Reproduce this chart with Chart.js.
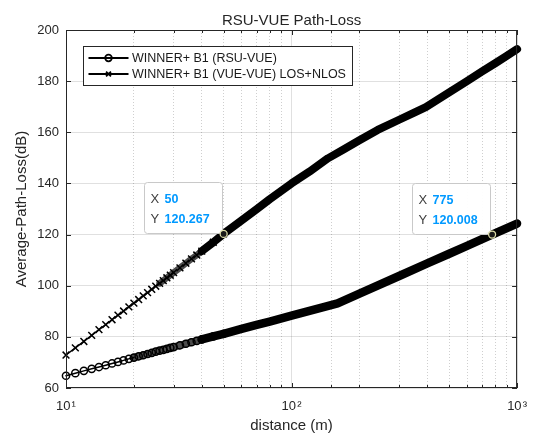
<!DOCTYPE html>
<html lang="en">
<head>
  <meta charset="UTF-8">
  <title>RSU-VUE Path-Loss</title>
  <script src="https://cdn.jsdelivr.net/npm/chart.js"></script>
  <style>
    body { margin: 0; background: #fff; }
    #wrap { width: 538px; height: 435px; }
  </style>
</head>
<body>
  <div id="wrap"><canvas id="plChart" width="538" height="435"></canvas></div>

  <script>
    // values (distance in m, loss in dB)
    const distRsu = [10, 11, 12, 13, 14, 15, 16, 17, 18, 19, 20, 21, 22, 23, 24, 25, 26, 27, 28, 29, 30,
      32, 34, 36, 38, 40, 45, 50, 60, 70, 80, 100, 120, 140, 160, 200, 300, 400, 500, 600, 775, 1000];
    const lossRsu = [64.8, 65.8, 66.7, 67.5, 68.2, 68.9, 69.6, 70.2, 70.8, 71.4, 71.9, 72.4, 72.8, 73.3, 73.7, 74.2, 74.6, 74.9, 75.3, 75.7, 76.0,
      76.7, 77.3, 77.9, 78.4, 79.0, 80.2, 81.2, 83.1, 84.7, 86.0, 88.3, 90.2, 91.7, 93.1, 96.9, 103.8, 108.7, 112.5, 115.6, 120.0, 124.3];

    const distVue = [10, 11, 12, 13, 14, 15, 16, 17, 18, 19, 20, 21, 22, 23, 24, 25, 26, 27, 28, 29, 30,
      32, 34, 36, 38, 40, 45, 50, 60, 70, 80, 100, 120, 145, 170, 200, 241, 300, 350, 394, 500, 600, 700, 800, 900, 1000];
    const lossVue = [72.9, 75.7, 78.2, 80.6, 82.8, 84.8, 86.7, 88.5, 90.1, 91.7, 93.2, 94.6, 96.0, 97.3, 98.6, 99.8, 100.9, 102.0, 103.1, 104.1, 105.1,
      107.0, 108.8, 110.5, 112.0, 113.5, 117.0, 120.3, 125.5, 129.9, 133.8, 140.0, 144.6, 149.8, 153.3, 156.9, 160.9, 164.9, 167.7, 169.8, 175.6, 180.0, 183.8, 187.0, 189.9, 192.5];

    const seriesNames = ['WINNER+ B1 (RSU-VUE)', 'WINNER+ B1 (VUE-VUE) LOS+NLOS'];
    const tipX = [50, 775];
    const tipY = [120.267, 120.008];

    const FONT = '"Liberation Sans", Arial, sans-serif';
    const INK = '#262626';
    const sup = { 1: '\u00b9', 2: '\u00b2', 3: '\u00b3' };
    const isDecade = v => Math.abs(Math.log10(v) - Math.round(Math.log10(v))) < 1e-6;

    Chart.defaults.font.family = FONT;
    Chart.defaults.color = INK;

    function drawMarker(ctx, style, x, y, r) {
      ctx.beginPath();
      if (style === 'circle') {
        ctx.arc(x, y, r, 0, Math.PI * 2);
      } else {
        const d = r * 0.75;
        ctx.moveTo(x - d, y - d); ctx.lineTo(x + d, y + d);
        ctx.moveTo(x - d, y + d); ctx.lineTo(x + d, y - d);
      }
      ctx.stroke();
    }

    function drawTip(ctx, px, py, xv, yv) {
      const w = 78, h = 51;
      const left = Math.round(px - 2 - w) + 0.5, top = Math.round(py - 1 - h) + 0.5;
      ctx.beginPath();
      if (ctx.roundRect) ctx.roundRect(left, top, w, h, 3); else ctx.rect(left, top, w, h);
      ctx.fillStyle = 'rgba(255,255,255,0.96)';
      ctx.fill();
      ctx.strokeStyle = '#c9c9c9';
      ctx.lineWidth = 1;
      ctx.stroke();

      ctx.textAlign = 'left';
      ctx.textBaseline = 'middle';
      ctx.font = '13px ' + FONT;
      ctx.fillStyle = '#404040';
      ctx.fillText('X', left + 6, top + 17);
      ctx.fillText('Y', left + 6, top + 37);
      ctx.font = 'bold 12.5px ' + FONT;
      ctx.fillStyle = '#0099ff';
      ctx.fillText(String(xv), left + 20, top + 17);
      ctx.fillText(yv.toFixed(3), left + 20, top + 37);

      // datatip marker
      ctx.beginPath();
      ctx.arc(px, py, 3.5, 0, Math.PI * 2);
      ctx.fillStyle = '#1a1a1a';
      ctx.fill();
      ctx.strokeStyle = '#dcdca8';
      ctx.lineWidth = 1.3;
      ctx.stroke();
    }

    const decor = {
      id: 'decor',
      afterDatasetsDraw(chart) {
        const { ctx, chartArea: a, scales: { x, y } } = chart;
        ctx.save();

        // axes box with inward ticks
        ctx.strokeStyle = INK;
        ctx.lineWidth = 1;
        ctx.strokeRect(a.left + 0.5, a.top + 0.5, a.right - a.left - 1, a.bottom - a.top - 1);
        ctx.beginPath();
        x.ticks.forEach(t => {
          const px = Math.round(x.getPixelForValue(t.value)) + 0.5;
          const len = isDecade(t.value) ? 5 : 3;
          ctx.moveTo(px, a.bottom); ctx.lineTo(px, a.bottom - len);
          ctx.moveTo(px, a.top); ctx.lineTo(px, a.top + len);
        });
        y.ticks.forEach(t => {
          const py = Math.round(y.getPixelForValue(t.value)) + 0.5;
          ctx.moveTo(a.left, py); ctx.lineTo(a.left + 5, py);
          ctx.moveTo(a.right, py); ctx.lineTo(a.right - 5, py);
        });
        ctx.stroke();

        // title
        ctx.font = '15px ' + FONT;
        ctx.fillStyle = INK;
        ctx.textAlign = 'center';
        ctx.textBaseline = 'alphabetic';
        ctx.fillText('RSU-VUE Path-Loss', (a.left + a.right) / 2, 25);

        // legend
        const lx = a.left + 17.5, ly = a.top + 16.5, lw = 269, lh = 39;
        ctx.fillStyle = '#fff';
        ctx.fillRect(lx, ly, lw, lh);
        ctx.strokeStyle = INK;
        ctx.strokeRect(lx, ly, lw, lh);
        const styles = ['circle', 'crossRot'];
        seriesNames.forEach((name, i) => {
          const ry = ly + 11.5 + i * 16;
          ctx.strokeStyle = '#000';
          ctx.lineWidth = 2;
          ctx.beginPath();
          ctx.moveTo(lx + 5, ry); ctx.lineTo(lx + 45, ry);
          ctx.stroke();
          ctx.lineWidth = 1.8;
          drawMarker(ctx, styles[i], lx + 25, ry, 3.3);
          ctx.font = '12.5px ' + FONT;
          ctx.fillStyle = '#1a1a1a';
          ctx.textAlign = 'left';
          ctx.textBaseline = 'middle';
          ctx.fillText(name, lx + 48.5, ry + 0.5);
        });

        // data tips
        tipX.forEach((xv, i) => {
          drawTip(ctx, x.getPixelForValue(xv), y.getPixelForValue(tipY[i]), xv, tipY[i]);
        });
        ctx.restore();
      }
    };

    // thin line with markers, a grey overlap band, then a solid band where markers pile up
    function seriesSet(label, dist, loss, style, radius, markerEnd, bandFrom, solidFrom, bandW, solidW, bandColor) {
      return {
        label,
        data: dist.map((d, i) => ({ x: d, y: loss[i] })),
        borderColor: '#000',
        backgroundColor: 'transparent',
        borderWidth: 1.5,
        borderCapStyle: 'round',
        borderJoinStyle: 'round',
        pointStyle: style,
        pointRadius: c => (c.raw && c.raw.x <= markerEnd ? radius : 0),
        pointBorderWidth: 1.5,
        pointBorderColor: '#000',
        pointBackgroundColor: 'transparent',
        segment: {
          borderWidth: c => (c.p0.parsed.x >= solidFrom ? solidW : c.p0.parsed.x >= bandFrom ? bandW : 1.5),
          borderColor: c => (c.p0.parsed.x >= solidFrom ? '#000' : c.p0.parsed.x >= bandFrom ? bandColor : '#000')
        },
        tension: 0,
        clip: 8
      };
    }

    new Chart(document.getElementById('plChart'), {
      type: 'line',
      data: {
        datasets: [
          seriesSet(seriesNames[0], distRsu, lossRsu, 'circle', 3.6, 50, 20, 40, 7.5, 8.5, 'rgba(0,0,0,0.7)'),
          seriesSet(seriesNames[1], distVue, lossVue, 'crossRot', 4.8, 50, 26, 40, 6.5, 8, 'rgba(0,0,0,0.7)')
        ]
      },
      options: {
        responsive: false,
        animation: false,
        layout: { padding: { top: 30, right: 18, left: 0, bottom: 0 } },
        plugins: { legend: { display: false }, tooltip: { enabled: false } },
        scales: {
          x: {
            type: 'logarithmic',
            min: 10,
            max: 1000,
            afterFit: s => { s.height = 47; },
            grid: {
              drawTicks: false,
              color: c => (c.tick && isDecade(c.tick.value) ? 'rgba(38,38,38,0.14)' : 'rgba(38,38,38,0.22)')
            },
            border: {
              display: false,
              dash: c => (c.tick && !isDecade(c.tick.value) ? [1, 2] : [])
            },
            ticks: {
              autoSkip: false,
              maxRotation: 0,
              padding: 11,
              font: { size: 13 },
              color: INK,
              callback: v => (isDecade(v) ? '10\u200a' + sup[Math.round(Math.log10(v))] : '')
            },
            title: { display: true, text: 'distance (m)', font: { size: 15 }, color: INK, padding: { top: 0, bottom: 0 } }
          },
          y: {
            min: 60,
            max: 200,
            afterFit: s => { s.width = 66; },
            grid: { drawTicks: false, color: 'rgba(38,38,38,0.14)' },
            border: { display: false },
            ticks: { stepSize: 20, padding: 7, font: { size: 13 }, color: INK },
            title: { display: true, text: 'Average-Path-Loss(dB)', font: { size: 15 }, color: INK, padding: { top: 13, bottom: 0 } }
          }
        }
      },
      plugins: [decor]
    });
  </script>
</body>
</html>
